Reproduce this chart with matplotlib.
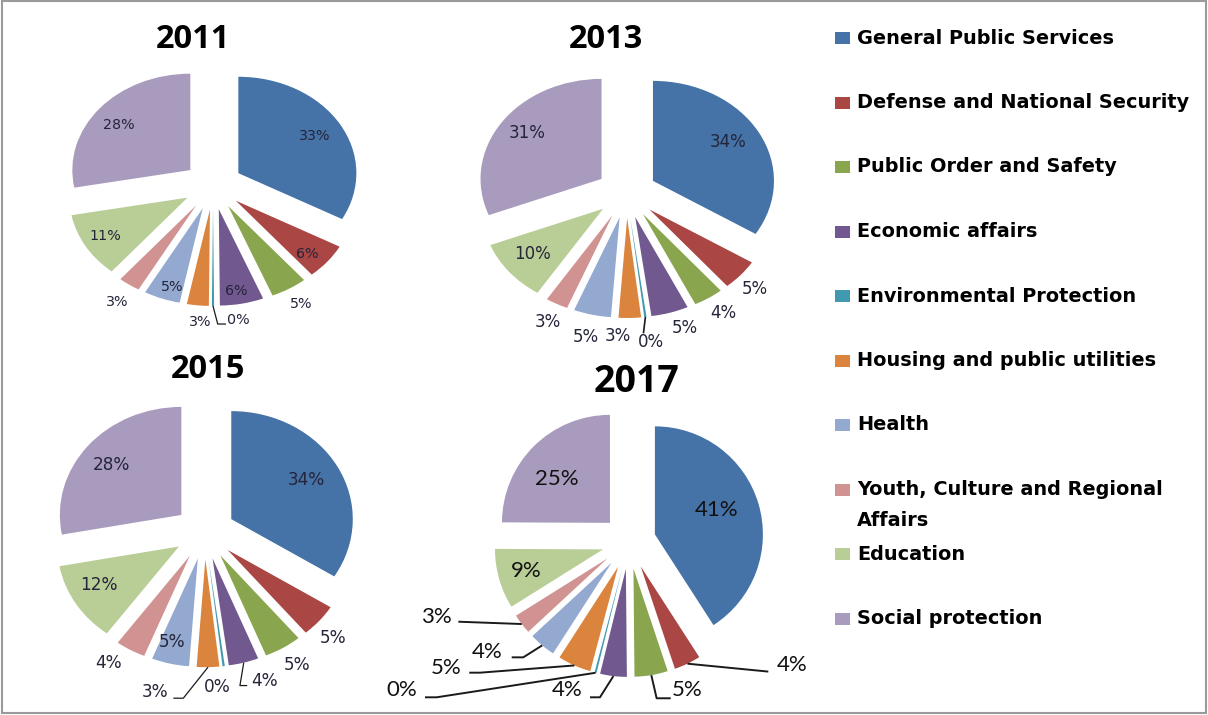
import numpy as np
import matplotlib
matplotlib.use("Agg")
import matplotlib.pyplot as plt
from matplotlib.patches import Rectangle

# ---- data -------------------------------------------------------------
categories = [
    "General Public Services",
    "Defense and National Security",
    "Public Order and Safety",
    "Economic affairs",
    "Environmental Protection",
    "Housing and public utilities",
    "Health",
    "Youth, Culture and Regional\nAffairs",
    "Education",
    "Social protection",
]
years = ["2011", "2013", "2015", "2017"]

share_2011 = [33, 6, 5, 6, 0.3, 3, 5, 3, 11, 28]
share_2013 = [34, 5, 4, 5, 0.3, 3, 5, 3, 10, 31]
share_2015 = [34, 5, 5, 4, 0.3, 3, 5, 4, 12, 28]
share_2017 = [41, 4, 5, 4, 0.3, 5, 4, 3, 9, 25]
shares = [share_2011, share_2013, share_2015, share_2017]

colors = ["#4572A7", "#AA4643", "#89A54E", "#71588F", "#4198AF",
          "#DB843D", "#93A9CF", "#D19392", "#B9CD96", "#A99BBD"]

# ---- layout -----------------------------------------------------------
W, H = 1208, 715
EXPLODE = 0.25
L = 1.6

# pie centre and radii in pixels (x, y from top, rx, ry)
pie_geom = [
    (213, 185.5, 118, 96.4),
    (626.5, 193, 121, 100),
    (204.7, 532.2, 121.5, 108),
    (629, 542, 108, 108),
]
title_pos = [(192.7, 39.3), (605.7, 39.3), (208.3, 370), (636.7, 381.7)]
title_size = [23.5, 23.5, 23.5, 27]

# data-label positions in unit-radius coordinates
label_pos = [
    [(0.86, 0.51), (0.80, -0.71), (0.75, -1.23), (0.20, -1.09), (0.215, -1.40),
     (-0.11, -1.42), (-0.35, -1.05), (-0.81, -1.21), (-0.91, -0.52), (-0.80, 0.63)],
    [(0.84, 0.51), (1.06, -0.96), (0.80, -1.20), (0.48, -1.35), (0.20, -1.49),
     (-0.07, -1.43), (-0.34, -1.44), (-0.65, -1.29), (-0.78, -0.61), (-0.82, 0.60)],
    [(0.84, 0.48), (1.06, -0.98), (0.76, -1.23), (0.49, -1.38), (0.10, -1.43),
     (-0.41, -1.477), (-0.27, -1.02), (-0.79, -1.21), (-0.87, -0.49), (-0.77, 0.62)],
    [(0.81, 0.30), (1.51, -1.14), (0.534, -1.37), (-0.571, -1.37), (-2.105, -1.37),
     (-1.694, -1.169), (-1.312, -1.016), (-1.787, -0.692), (-0.95, -0.27), (-0.67, 0.58)],
]
label_font = ["DejaVu Sans", "DejaVu Sans", "DejaVu Sans", "Lato"]
label_size = [10.3, 12, 12.2, 16]
label_color = ["#24243a", "#24243a", "#24243a", "#111111"]

# leader-line bends (after the wedge's outer-arc midpoint)
leaders = [
    {4: [(0.04, -1.437), (0.11, -1.437)]},
    {4: [(0.14, -1.403)]},
    {3: [(0.29, -1.42), (0.35, -1.42)], 5: [(-0.176, -1.537), (-0.258, -1.537)]},
    {1: [(1.29, -1.20)],
     2: [(0.256, -1.447), (0.386, -1.447)],
     3: [(-0.269, -1.438), (-0.361, -1.438)],
     4: [(-1.781, -1.438), (-1.889, -1.438)],
     5: [(-1.38, -1.21), (-1.479, -1.21)],
     6: [(-0.979, -1.068), (-1.086, -1.068)],
     7: [(-1.58, -0.738)]},
]
leader_lw = [0.9, 1.2, 0.9, 1.4]

fig = plt.figure(figsize=(W / 100, H / 100), dpi=100)
fig.patch.set_facecolor("white")

# overlay axes in pixel coordinates for titles, legend and frame
ov = fig.add_axes([0, 0, 1, 1])
ov.set_xlim(0, W)
ov.set_ylim(H, 0)
ov.axis("off")

for k, vals in enumerate(shares):
    cx, cy, rx, ry = pie_geom[k]
    ax = fig.add_axes([(cx - L * rx) / W, 1 - (cy + L * ry) / H,
                       2 * L * rx / W, 2 * L * ry / H])
    wedges, _ = ax.pie(vals, colors=colors, startangle=90, counterclock=False,
                       explode=[EXPLODE] * len(vals),
                       wedgeprops=dict(linewidth=0))
    ax.set_aspect("auto")
    ax.set_xlim(-L, L)
    ax.set_ylim(-L, L)
    ax.axis("off")

    for i, v in enumerate(vals):
        lx, ly = label_pos[k][i]
        ax.text(lx, ly, f"{round(v)}%", ha="center", va="center",
                fontsize=label_size[k], family=label_font[k],
                color=label_color[k], clip_on=False)

    for i, pts in leaders[k].items():
        w = wedges[i]
        mid = np.deg2rad((w.theta1 + w.theta2) / 2)
        sx = w.center[0] + w.r * np.cos(mid)
        sy = w.center[1] + w.r * np.sin(mid)
        xs = [sx] + [p[0] for p in pts]
        ys = [sy] + [p[1] for p in pts]
        ax.plot(xs, ys, color="#1a1a1a", lw=leader_lw[k], clip_on=False,
                solid_capstyle="butt")

    tx, ty = title_pos[k]
    ov.text(tx, ty, years[k], ha="center", va="center", fontsize=title_size[k],
            fontweight="bold", family="Open Sans", color="black")

# legend
leg_x, leg_y0, leg_step, line_gap = 835, 38, 64.5, 31
for i, (name, c) in enumerate(zip(categories, colors)):
    y = leg_y0 + i * leg_step
    ov.add_patch(Rectangle((leg_x, y - 6), 15, 12, facecolor=c, edgecolor="none"))
    for j, line in enumerate(name.split("\n")):
        ov.text(leg_x + 22, y + j * line_gap, line, ha="left", va="center",
                fontsize=13.9, fontweight="bold", family="DejaVu Sans",
                color="black")

# outer frame
ov.add_patch(Rectangle((2, 1), W - 4, H - 3, facecolor="none",
                       edgecolor="#9a9a9a", lw=1.5))

fig.savefig("out.png", dpi=100, facecolor="white")
